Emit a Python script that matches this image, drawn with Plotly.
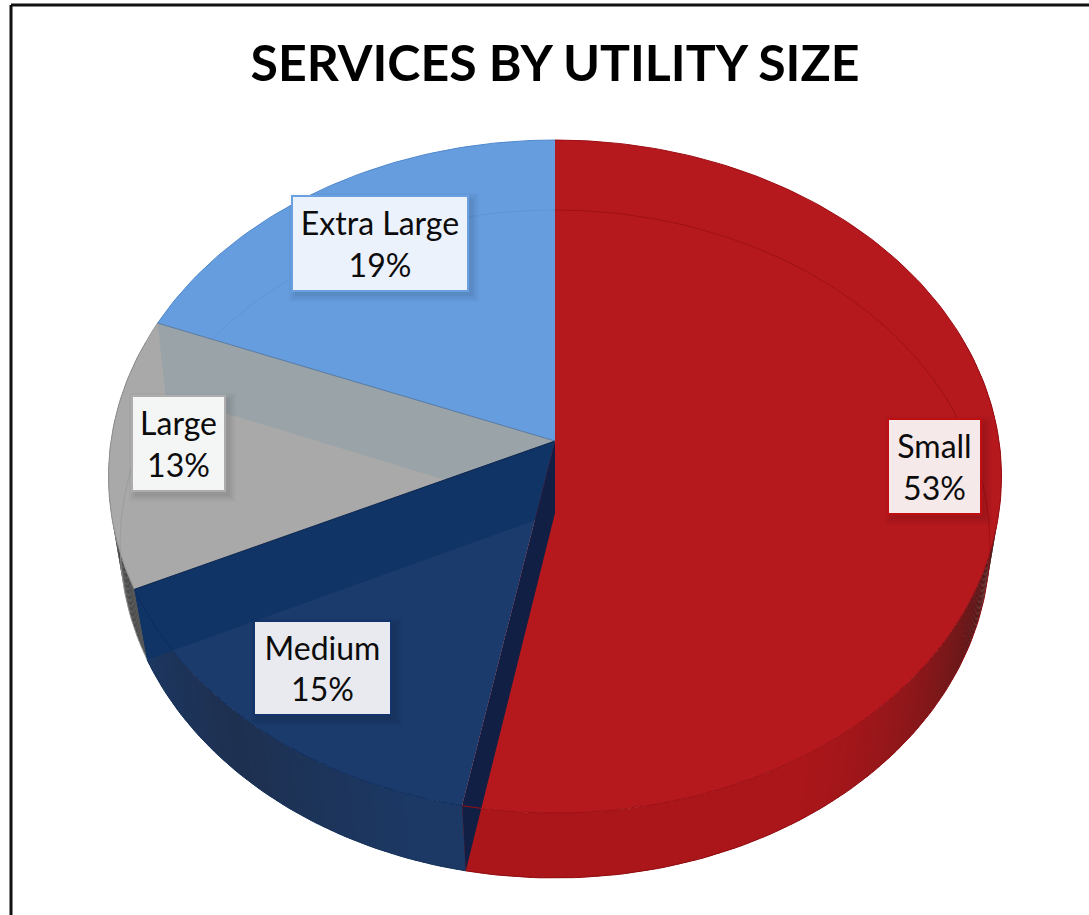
import math
import plotly.graph_objects as go

# Utility-size shares, clockwise from twelve o'clock
categories = ["Small", "Medium", "Large", "Extra Large"]
shares = [53, 15, 13, 19]
title_text = "SERVICES BY UTILITY SIZE"

face_colors = ["#b5191e", "#1b3b6c", "#a8a9a8", "#659dde"]
edge_colors = ["#9c0d12", "#0d2c5e", "#8f9192", "#4f88cc"]
wall_light = ["#aa161a", "#1c3864", "#8a8a8a", "#4f88cc"]
wall_dark = ["#3f1a1a", "#1e3050", "#4a4a4a", "#4f88cc"]
cut_navy = "#0f3465"
cut_gray = "#99a3a8"
cut_dark = "#111f45"

# Label box placement (left, top, right, bottom) and styling per category
label_boxes = [(889, 420, 980, 513), (255, 622, 390, 714), (133, 397, 224, 490), (293, 197, 467, 290)]
label_fills = ["#f6e9ea", "#e8eaef", "#f4f5f5", "#ecf2fb"]
label_borders = ["#c00d12", "#12346a", "#adadad", "#6ba0e0"]

W, H = 1089, 915
CX = 555.0

# Perspective disc: (apex y, far-edge slope, foreshortening, half width)
TOP = (441.0, -286.2, 0.1055, 444.0)
BOTTOM = (513.0, -283.5, 0.0928, 433.0)


def project(theta, disc, r=1.0):
    """Project a clockwise angle and radius on a disc into plot coordinates."""
    y0, a, c, k = disc
    u, v = r * math.sin(theta), r * math.cos(theta)
    w = 1 + c * v
    return CX + k * u / w, (y0 + a * v) / w


def arc(t0, t1, disc, step=math.radians(1.0)):
    n = max(2, int(abs(t1 - t0) / step) + 1)
    pts = [project(t0 + (t1 - t0) * i / (n - 1), disc) for i in range(n)]
    return [p[0] for p in pts], [p[1] for p in pts]


def mix(c1, c2, f):
    a = [int(c1[i:i + 2], 16) for i in (1, 3, 5)]
    b = [int(c2[i:i + 2], 16) for i in (1, 3, 5)]
    return "rgb(%d,%d,%d)" % tuple(round(x + (y - x) * f) for x, y in zip(a, b))


def poly(xs, ys, color):
    return go.Scatter(
        x=list(xs), y=list(ys), mode="lines", fill="toself", fillcolor=color,
        line=dict(color=color, width=0), hoverinfo="skip", showlegend=False,
    )


def path(xs, ys, color, width=1.0):
    return go.Scatter(x=list(xs), y=list(ys), mode="lines", line=dict(color=color, width=width),
                      hoverinfo="skip", showlegend=False)


# Slice boundaries follow directly from the shares
total = sum(shares)
bounds = [0.0]
for s in shares:
    bounds.append(bounds[-1] + 2 * math.pi * s / total)

fig = go.Figure()

# Outer walls, shaded strip by strip and darkest where they turn away
strip = math.radians(1.0)
for i in range(len(shares)):
    t0, t1 = bounds[i], bounds[i + 1]
    n = max(1, int((t1 - t0) / strip))
    for j in range(n):
        a = t0 + (t1 - t0) * j / n
        b = t0 + (t1 - t0) * (j + 1) / n + 0.006
        if math.cos(a) > 0.3 and math.cos(b) > 0.3:
            continue
        deg = math.degrees((a + b) / 2)
        if i == 0:
            f = max(0.0, min(1.0, (150 - deg) / 48)) ** 1.4
        elif i == 1:
            f = max(0.0, 1 - abs(deg - 222) / 25)
        elif i == 2:
            f = max(0.0, min(1.0, (deg - 225) / 25))
        else:
            f = 0.0
        xa, ya = arc(a, b, TOP)
        xb, yb = arc(b, a, BOTTOM)
        fig.add_trace(poly(xa + xb, ya + yb, mix(wall_light[i], wall_dark[i], f)))

ax, ay = project(0, TOP, r=0)
bx, by = project(0, BOTTOM, r=0)


def wedge(i, disc=TOP):
    xs, ys = arc(bounds[i], bounds[i + 1], disc)
    return [ax] + xs + [ax], [ay] + ys + [ay]


def cut_face(t):
    tx, ty = project(t, TOP)
    ux, uy = project(t, BOTTOM)
    return [ax, tx, ux, bx, ax], [ay, ty, uy, by, ay]


# Blue slice with the far rim of the base showing through it
fig.add_trace(poly(*wedge(3), face_colors[3]))
fig.add_trace(path(*arc(bounds[3], bounds[4], BOTTOM), "#5a93d6", 0.8))

# Gray slice, its base rim, and the blue slice's cut face seen through it
fig.add_trace(poly(*wedge(2), face_colors[2]))
fig.add_trace(path(*arc(bounds[2], bounds[3], BOTTOM), "#979a9b", 0.8))
fig.add_trace(poly(*cut_face(bounds[3]), cut_gray))

# Navy slice and the gray slice's cut face seen through it
fig.add_trace(poly(*wedge(1), face_colors[1]))
fig.add_trace(poly(*cut_face(bounds[2]), cut_navy))

# Red slice, with the far rim of the base across it
fig.add_trace(poly(*wedge(0), face_colors[0]))
fig.add_trace(path(*arc(bounds[0], math.radians(97), BOTTOM), "#9c1015", 0.9))

# Dark cut side of the red slice
sx, sy = project(bounds[1], TOP)
vx, vy = project(bounds[1], BOTTOM)
fig.add_trace(poly([ax, bx, vx, sx, ax], [ay, by, vy, sy, ay], cut_dark))

# Rims and slice edges
for i in range(len(shares)):
    fig.add_trace(path(*arc(bounds[i], bounds[i + 1], TOP), edge_colors[i], 1.0))
for t, color in ((bounds[2], "#12294f"), (bounds[3], "#567aa6")):
    px, py = project(t, TOP)
    fig.add_trace(path([ax, px], [ay, py], color, 1.0))
fig.add_trace(path(*arc(math.radians(97), bounds[1], BOTTOM), "#8f0c10", 1.0))
fig.add_trace(path(*arc(bounds[1], bounds[2], BOTTOM), "#14305a", 1.0))

# Soft shadows behind the label boxes, then the frame around the panel
shapes = []
for (l, t, r, b) in label_boxes:
    for grow, alpha in ((8, 0.02), (6, 0.025), (4, 0.03), (2, 0.035)):
        shapes.append(dict(type="rect", xref="x", yref="y", layer="above",
                           x0=l + 4 - grow, y0=t + 4 - grow, x1=r + 4 + grow, y1=b + 4 + grow,
                           fillcolor="rgba(0,0,0,%g)" % alpha, line=dict(width=0)))
shapes.append(dict(type="line", xref="x", yref="y", x0=11, y0=5, x1=W, y1=5, line=dict(color="#111", width=3)))
shapes.append(dict(type="line", xref="x", yref="y", x0=11, y0=5, x1=11, y1=H, line=dict(color="#111", width=3)))

annotations = []
for name, share, box, fill, border in zip(categories, shares, label_boxes, label_fills, label_borders):
    l, t, r, b = box
    annotations.append(dict(
        x=(l + r) / 2, y=(t + b) / 2, xref="x", yref="y", showarrow=False,
        text=f"{name}<br>{share}%", align="center", valign="middle",
        width=r - l, height=b - t, borderpad=0,
        bgcolor=fill, bordercolor=border, borderwidth=2,
        font=dict(family="Lato", size=32, color="#0c0c0c"),
    ))

fig.update_layout(
    width=W, height=H, margin=dict(l=0, r=0, t=0, b=0),
    paper_bgcolor="white", plot_bgcolor="white", showlegend=False,
    title=dict(text=f"<b>{title_text}</b>", x=555 / W, xanchor="center", y=1 - 63 / H, yanchor="middle",
               font=dict(family="Lato", size=50, color="#000000")),
    xaxis=dict(range=[0, W], visible=False, fixedrange=True),
    yaxis=dict(range=[H, 0], visible=False, fixedrange=True),
    shapes=shapes, annotations=annotations,
)

fig.write_html("out.html")
